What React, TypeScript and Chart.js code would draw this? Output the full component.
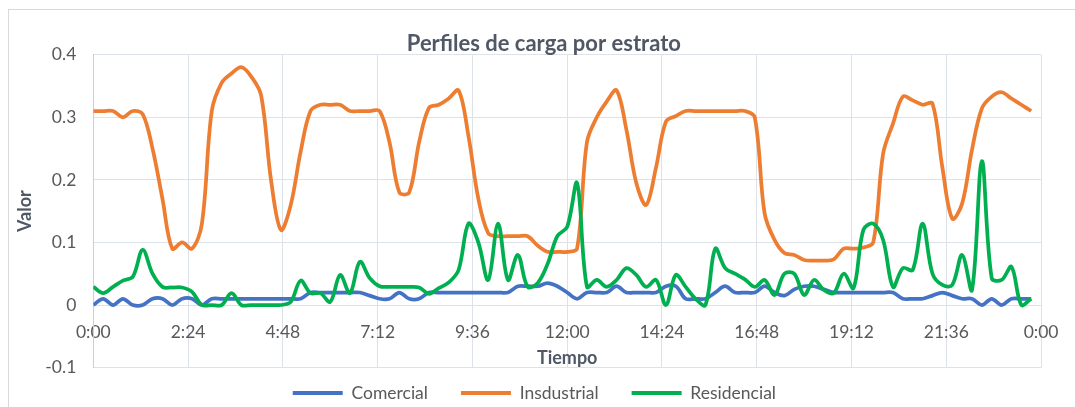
import { useEffect, useRef } from "react";
import { Chart, registerables } from "chart.js";

Chart.register(...registerables);

const times = [
  "0:00", "0:15", "0:30", "0:45", "1:00", "1:15", "1:30", "1:45",
  "2:00", "2:15", "2:30", "2:45", "3:00", "3:15", "3:30", "3:45",
  "4:00", "4:15", "4:30", "4:45", "5:00", "5:15", "5:30", "5:45",
  "6:00", "6:15", "6:30", "6:45", "7:00", "7:15", "7:30", "7:45",
  "8:00", "8:15", "8:30", "8:45", "9:00", "9:15", "9:30", "9:45",
  "10:00", "10:15", "10:30", "10:45", "11:00", "11:15", "11:30", "11:45",
  "12:00", "12:15", "12:30", "12:45", "13:00", "13:15", "13:30", "13:45",
  "14:00", "14:15", "14:30", "14:45", "15:00", "15:15", "15:30", "15:45",
  "16:00", "16:15", "16:30", "16:45", "17:00", "17:15", "17:30", "17:45",
  "18:00", "18:15", "18:30", "18:45", "19:00", "19:15", "19:30", "19:45",
  "20:00", "20:15", "20:30", "20:45", "21:00", "21:15", "21:30", "21:45",
  "22:00", "22:15", "22:30", "22:45", "23:00", "23:15", "23:30", "23:45",
];

const comercial = [
  0, 0.01, 0, 0.01, 0, 0, 0.01, 0.01, 0, 0.01,
  0.01, 0, 0.01, 0.01, 0.01, 0.01, 0.01, 0.01, 0.01, 0.01,
  0.01, 0.01, 0.02, 0.02, 0.02, 0.02, 0.02, 0.02, 0.015, 0.01,
  0.01, 0.02, 0.01, 0.01, 0.02, 0.02, 0.02, 0.02, 0.02, 0.02,
  0.02, 0.02, 0.02, 0.03, 0.03, 0.03, 0.035, 0.03, 0.02, 0.01,
  0.02, 0.02, 0.02, 0.03, 0.02, 0.02, 0.02, 0.02, 0.03, 0.03,
  0.01, 0.01, 0.01, 0.02, 0.03, 0.02, 0.02, 0.02, 0.03, 0.02,
  0.015, 0.025, 0.03, 0.03, 0.025, 0.02, 0.02, 0.02, 0.02, 0.02,
  0.02, 0.02, 0.01, 0.01, 0.01, 0.015, 0.02, 0.015, 0.01, 0.01,
  0, 0.01, 0, 0.01, 0.01, 0.01,
];

const industrial = [
  0.31, 0.31, 0.31, 0.3, 0.31, 0.305, 0.25, 0.17, 0.09, 0.1,
  0.09, 0.13, 0.31, 0.355, 0.37, 0.38, 0.365, 0.335, 0.2, 0.12,
  0.16, 0.245, 0.31, 0.32, 0.32, 0.32, 0.31, 0.31, 0.31, 0.31,
  0.26, 0.18, 0.18, 0.26, 0.315, 0.32, 0.33, 0.343, 0.27, 0.17,
  0.115, 0.11, 0.11, 0.11, 0.11, 0.095, 0.085, 0.085, 0.085, 0.09,
  0.26, 0.3, 0.325, 0.343, 0.28, 0.195, 0.16, 0.22, 0.293, 0.302,
  0.31, 0.31, 0.31, 0.31, 0.31, 0.31, 0.31, 0.3, 0.146, 0.104,
  0.083, 0.08, 0.072, 0.071, 0.071, 0.073, 0.09, 0.09, 0.092, 0.1,
  0.242, 0.29, 0.333, 0.327, 0.32, 0.322, 0.22, 0.138, 0.162, 0.248,
  0.314, 0.333, 0.34, 0.33, 0.32, 0.31,
];

const residencial = [
  0.029, 0.019, 0.029, 0.039, 0.045, 0.088, 0.05, 0.029, 0.028, 0.028,
  0.021, 0, 0, 0, 0.019, 0, 0, 0, 0, 0,
  0.005, 0.039, 0.019, 0.019, 0.005, 0.048, 0.019, 0.069, 0.043, 0.03,
  0.029, 0.029, 0.029, 0.028, 0.018, 0.027, 0.036, 0.056, 0.13, 0.1,
  0.04, 0.13, 0.04, 0.08, 0.029, 0.035, 0.065, 0.11, 0.125, 0.195,
  0.029, 0.04, 0.029, 0.04, 0.059, 0.048, 0.029, 0.04, 0, 0.048,
  0.029, 0.01, 0, 0.09, 0.059, 0.05, 0.041, 0.029, 0.04, 0.016,
  0.05, 0.05, 0.016, 0.04, 0.024, 0.019, 0.05, 0.027, 0.12, 0.13,
  0.104, 0.029, 0.059, 0.056, 0.13, 0.05, 0.032, 0.032, 0.08, 0.024,
  0.23, 0.043, 0.04, 0.061, 0, 0.01,
];

const xTickLabels = ["0:00", "2:24", "4:48", "7:12", "9:36", "12:00", "14:24", "16:48", "19:12", "21:36", "0:00"];
const yTickLabels = ["-0.1", "0", "0.1", "0.2", "0.3", "0.4"];

const toMinutes = (s: string) => {
  const [h, m] = s.split(":").map(Number);
  return h * 60 + m;
};

const FONT = "Lato";
const TEXT = "#595959";
const TITLE = "#505866";
const GRID = "#dde1e8";
const AXIS = "#c9ced8";

export default function App() {
  const ref = useRef<HTMLCanvasElement>(null);

  useEffect(() => {
    const canvas = ref.current;
    if (!canvas) return;
    const pts = (arr: number[]) => arr.map((v, i) => ({ x: toMinutes(times[i]), y: v }));

    const nudge = {
      id: "nudge",
      afterLayout(chart: any) {
        const t = chart.titleBlock;
        if (t) {
          t.left += 18.5;
          t.right += 18.5;
        }
        const l = chart.legend;
        if (l) {
          l.top -= 16.35;
          l.bottom -= 16.35;
          l.left += 9;
          l.right += 9;
        }
      },
    };

    const line = (label: string, data: number[], color: string, order: number) => ({
      label,
      data: pts(data),
      borderColor: color,
      backgroundColor: color,
      borderWidth: 3.75,
      pointRadius: 0,
      tension: 0.35,
      order,
    });

    const chart = new Chart(canvas, {
      type: "line",
      data: {
        datasets: [
          line("Comercial", comercial, "#4472C4", 2),
          line("Insdustrial", industrial, "#ED7D31", 1),
          line("Residencial", residencial, "#00B050", 0),
        ],
      },
      plugins: [nudge],
      options: {
        animation: false,
        responsive: false,
        devicePixelRatio: 1,
        events: [],
        layout: { padding: { left: 0, right: 32.3, top: 0, bottom: -21.1 } },
        scales: {
          x: {
            type: "linear",
            position: { y: 0 } as any,
            min: 0,
            max: 1440,
            afterFit: (s: any) => {
              s.height = 0;
            },
            ticks: {
              stepSize: 144,
              autoSkip: false,
              maxRotation: 0,
              minRotation: 0,
              padding: 16.5,
              color: TEXT,
              font: { family: FONT, size: 17.5 },
              callback: (_v: any, i: number) => xTickLabels[i],
            },
            grid: { color: GRID, lineWidth: 1, drawTicks: false },
            border: { color: GRID },
            title: {
              display: true,
              text: "Tiempo",
              color: TITLE,
              font: { family: FONT, size: 18, weight: "bold" },
              padding: { top: 0, bottom: -63.8 },
            },
          },
          y: {
            type: "linear",
            position: "left",
            min: -0.1,
            max: 0.4,
            afterFit: (s: any) => {
              s.width = 85.3;
            },
            ticks: {
              stepSize: 0.1,
              padding: 17,
              color: TEXT,
              font: { family: FONT, size: 17.5 },
              callback: (_v: any, i: number) => yTickLabels[i],
            },
            grid: { color: GRID, lineWidth: 1, drawTicks: false },
            border: { color: AXIS },
            title: {
              display: true,
              text: "Valor",
              color: TITLE,
              font: { family: FONT, size: 18, weight: "bold" },
              padding: { top: 6.2, bottom: 0 },
            },
          },
        },
        plugins: {
          tooltip: { enabled: false },
          title: {
            display: true,
            text: "Perfiles de carga por estrato",
            color: TITLE,
            font: { family: FONT, size: 22, weight: "bold", lineHeight: 1 },
            padding: { top: 25, bottom: -0.3 },
          },
          legend: {
            display: true,
            position: "bottom",
            labels: {
              boxWidth: 50,
              boxHeight: 4,
              padding: 33,
              color: TEXT,
              font: { family: FONT, size: 17.5 },
              sort: (a: any, b: any) => a.datasetIndex - b.datasetIndex,
              generateLabels: (c: any) =>
                Chart.defaults.plugins.legend.labels.generateLabels(c).map((it: any) => ({
                  ...it,
                  lineWidth: 0,
                  fillStyle: it.strokeStyle,
                })),
            },
          },
        },
      } as any,
    });

    return () => chart.destroy();
  }, []);

  return (
    <div
      style={{
        position: "fixed",
        left: 8,
        top: 8,
        width: 1067,
        height: 399,
        overflow: "hidden",
        background: "#ffffff",
      }}
    >
      <div
        style={{
          position: "absolute",
          left: 0,
          top: 1,
          width: 1200,
          height: 600,
          border: "1px solid #d9d9d9",
          boxSizing: "border-box",
        }}
      />
      <canvas
        ref={ref}
        width={1067}
        height={399}
        style={{ position: "absolute", left: 0, top: 0, width: 1067, height: 399 }}
      />
    </div>
  );
}
